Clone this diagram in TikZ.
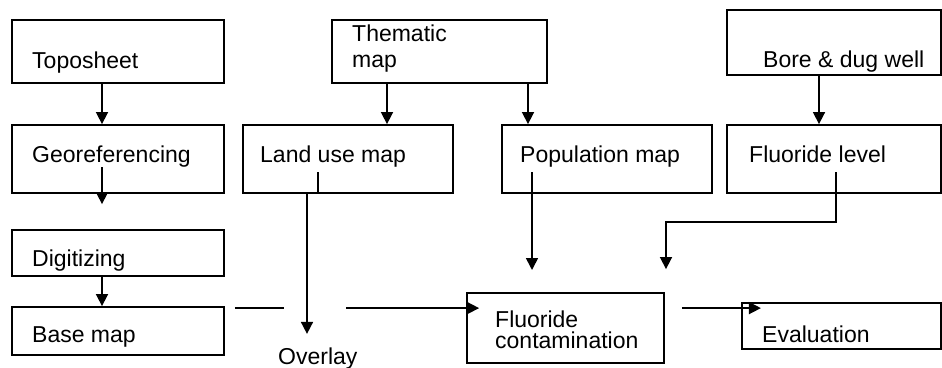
\documentclass[tikz,border=0pt]{standalone}
\usepackage{fontspec}
\setmainfont{Liberation Sans}
\usetikzlibrary{positioning,calc,arrows.meta}

\tikzset{
    box/.style={draw, line width=1.8pt, inner sep=0pt},
    lbl/.style={anchor=base west, inner sep=0pt, align=left, font=\fontsize{23}{26}\selectfont},
    arr/.style={line width=1.6pt, -{Triangle[length=12pt,width=12pt]}},
    plain/.style={line width=1.6pt}
}

\begin{document}
\begin{tikzpicture}[x=1pt,y=-1pt]
    \useasboundingbox (0,0) rectangle (942,367);

    % Toposheet column
    \node[box, minimum width=212pt, minimum height=63pt] (topo) at (118,51.5) {};
    \node[lbl] (topoT) at (32,68) {Toposheet};
    \node[box, minimum width=212pt, minimum height=68pt] (geo) at (118,159) {};
    \node[lbl] (geoT) at (32,162) {Georeferencing};
    \node[box, minimum width=212pt, minimum height=46pt] (digit) at (118,253) {};
    \node[lbl] (digitT) at (32,266) {Digitizing};
    \node[box, minimum width=212pt, minimum height=48pt] (base) at (118,331) {};
    \node[lbl] (baseT) at (32,342) {Base map};

    % Thematic map
    \node[box, minimum width=215pt, minimum height=63pt] (thematic) at (439.5,51.5) {};
    \node[lbl] (thematicT) at (352,67) {Thematic\\map};
    \node[box, minimum width=210pt, minimum height=68pt] (landuse) at (348,159) {};
    \node[lbl] (landuseT) at (260,162) {Land use map};
    \node[box, minimum width=210pt, minimum height=68pt] (pop) at (607,159) {};
    \node[lbl] (popT) at (520,162) {Population map};

    % Wells
    \node[box, minimum width=214pt, minimum height=65pt] (bore) at (834,42.5) {};
    \node[lbl] (boreT) at (763,67) {Bore \& dug well};
    \node[box, minimum width=214pt, minimum height=68pt] (fluor) at (834,159) {};
    \node[lbl] (fluorT) at (749,162) {Fluoride level};

    % Bottom row
    \node[lbl] (ovl) at (278,364) {Overlay};
    \node[box, minimum width=197pt, minimum height=70pt] (contam) at (565.5,328) {};
    \node[lbl, font=\fontsize{23}{21}\selectfont] (contamT) at (495,348) {Fluoride\\contamination};
    \node[box, minimum width=199pt, minimum height=46pt] (eval) at (841.5,326) {};
    \node[lbl] (evalT) at (762,342) {Evaluation};

    % Arrows
    \draw[arr] ([xshift=-16pt]topo.south) -- ([xshift=-16pt]geo.north);
    \draw[arr] ([xshift=-16pt,yshift=-8pt]geo.center) -- ([xshift=-16pt,yshift=25pt]digit.north);
    \draw[arr] ([xshift=-16pt]digit.south) -- ([xshift=-16pt]base.north);
    \draw[arr] ([xshift=-52.5pt]thematic.south) -- ([xshift=39pt]landuse.north);
    \draw[arr] ([xshift=88.5pt]thematic.south) -- ([xshift=-79pt]pop.north);
    \draw[arr] ([xshift=-15pt]bore.south) -- ([xshift=-15pt]fluor.north);

    \draw[plain] ([xshift=-30pt,yshift=-13pt]landuse.center) -- ([xshift=-30pt]landuse.south);
    \draw[arr] ([xshift=-41pt]landuse.south) -- ++(0,140);
    \draw[plain] ([xshift=10pt,yshift=-2pt]base.north east) -- ++(49,0);
    \draw[arr] ([xshift=-120pt,yshift=-16pt]contam.north west) -- ([xshift=13pt,yshift=-16pt]contam.north west);

    \draw[arr] ([xshift=-75pt,yshift=-13pt]pop.center) -- ++(0,98);
    \draw[arr] ([xshift=2pt,yshift=-13pt]fluor.center) -- ++(0,50) -| ([xshift=100.5pt,yshift=23pt]contam.north);
    \draw[arr] ([xshift=17pt,yshift=-16pt]contam.north east) -- ++(79,0);
\end{tikzpicture}
\end{document}
